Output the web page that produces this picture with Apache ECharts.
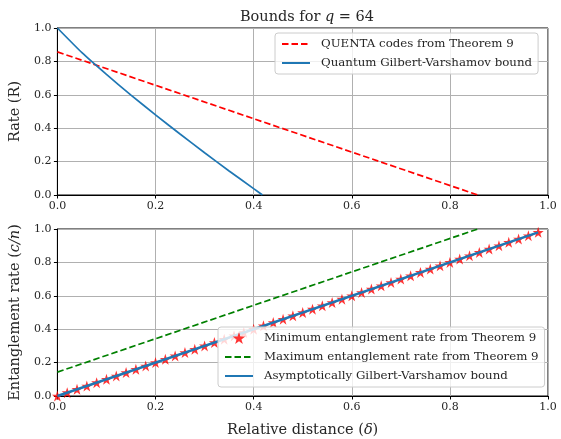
<!DOCTYPE html>
<html><head><meta charset="utf-8">
<script src="https://cdn.jsdelivr.net/npm/echarts@6/dist/echarts.min.js"></script>
<style>html,body{margin:0;padding:0;background:#fff}#c{width:561px;height:439px}</style>
</head><body><div id="c"></div>
<script>
// ---- data ----
const xTicks = [0.0, 0.2, 0.4, 0.6, 0.8, 1.0];
const yTicks = [0.0, 0.2, 0.4, 0.6, 0.8, 1.0];
// top panel
const quentaDelta = [0, 0.857];
const quentaRate = [0.857, 0];
const qgvDelta = [0, 0.05, 0.1, 0.15, 0.2, 0.25, 0.3, 0.35, 0.4, 0.418];
const qgvRate  = [1.0, 0.852, 0.722, 0.598, 0.480, 0.365, 0.253, 0.144, 0.038, 0.0];
// bottom panel
const minDelta = [0.00,0.02,0.04,0.06,0.08,0.10,0.12,0.14,0.16,0.18,0.20,0.22,0.24,0.26,0.28,0.30,0.32,0.34,0.36,0.38,0.40,0.42,0.44,0.46,0.48,0.50,0.52,0.54,0.56,0.58,0.60,0.62,0.64,0.66,0.68,0.70,0.72,0.74,0.76,0.78,0.80,0.82,0.84,0.86,0.88,0.90,0.92,0.94,0.96,0.98];
const minEnt   = [0.00,0.02,0.04,0.06,0.08,0.10,0.12,0.14,0.16,0.18,0.20,0.22,0.24,0.26,0.28,0.30,0.32,0.34,0.36,0.38,0.40,0.42,0.44,0.46,0.48,0.50,0.52,0.54,0.56,0.58,0.60,0.62,0.64,0.66,0.68,0.70,0.72,0.74,0.76,0.78,0.80,0.82,0.84,0.86,0.88,0.90,0.92,0.94,0.96,0.98];
const maxDelta = [0, 0.857];
const maxEnt   = [0.143, 1.0];
const agvDelta = [0, 0.98];
const agvEnt   = [0, 0.98];

const names = {
  quenta: 'QUENTA codes from Theorem 9',
  qgv: 'Quantum Gilbert-Varshamov bound',
  minE: 'Minimum entanglement rate from Theorem 9',
  maxE: 'Maximum entanglement rate from Theorem 9',
  agv: 'Asymptotically Gilbert-Varshamov bound'
};
const zip = (a, b) => a.map((v, i) => [v, b[i]]);

const FONT = 'DejaVu Serif, serif';
const STAR = 'path://M0,-10 L2.245,-3.09 L9.51,-3.09 L3.633,1.18 L5.878,8.09 L0,3.82 L-5.878,8.09 L-3.633,1.18 L-9.51,-3.09 L-2.245,-3.09 Z';
const fmt = v => v.toFixed(1);
const TXT = '#262626';
const richLbl = {
  a: { fontFamily: FONT, fontSize: 14.5, color: TXT },
  i: { fontFamily: FONT, fontSize: 14.5, color: TXT, fontStyle: 'italic' }
};

function xAxis(gi, withName) {
  const a = {
    type: 'value', gridIndex: gi, min: 0, max: 1, interval: 0.2,
    axisLine: { show: true, onZero: false, lineStyle: { color: '#000', width: 1 } },
    axisTick: { show: true, length: 3.5, lineStyle: { color: '#000' } },
    axisLabel: { formatter: fmt, color: TXT, fontFamily: FONT, fontSize: 11, margin: 6 },
    splitLine: { show: true, lineStyle: { color: '#b0b0b0', width: 1 } }
  };
  if (withName) {
    a.name = '{a|Relative distance (}{i|δ}{a|)}';
    a.nameLocation = 'middle';
    a.nameGap = 27;
    a.nameTextStyle = { rich: richLbl };
  }
  return a;
}
function yAxis(gi, name) {
  return {
    type: 'value', gridIndex: gi, min: 0, max: 1, interval: 0.2,
    name: name, nameLocation: 'middle', nameGap: 33, nameRotate: 90,
    nameTextStyle: { rich: richLbl },
    axisLine: { show: true, onZero: false, lineStyle: { color: '#000', width: 1 } },
    axisTick: { show: true, length: 3.5, lineStyle: { color: '#000' } },
    axisLabel: { formatter: fmt, color: TXT, fontFamily: FONT, fontSize: 11, margin: 6 },
    splitLine: { show: true, lineStyle: { color: '#b0b0b0', width: 1 } }
  };
}
const legendBase = {
  orient: 'vertical', itemWidth: 28, itemHeight: 12, itemGap: 7,
  padding: [5, 6, 5, 6],
  backgroundColor: 'rgba(255,255,255,0.8)', borderColor: '#cccccc', borderWidth: 1, borderRadius: 3,
  textStyle: { fontFamily: FONT, fontSize: 11.8, color: TXT, padding: [0, 0, 0, 6] },
  z: 10
};
const hideSym = { opacity: 0 };

const chart = echarts.init(document.getElementById('c'), null, { renderer: 'canvas' });
chart.setOption({
  animation: false,
  backgroundColor: '#fff',
  title: {
    text: '{a|Bounds for }{i|q}{a| = 64}',
    left: 302, top: 5, textAlign: 'center',
    textStyle: { fontWeight: 'normal', rich: richLbl }
  },
  grid: [
    { left: 57, top: 28, width: 491, height: 167, show: true, borderColor: '#000', borderWidth: 1, backgroundColor: 'transparent' },
    { left: 57, top: 229, width: 491, height: 167, show: true, borderColor: '#000', borderWidth: 1, backgroundColor: 'transparent' }
  ],
  xAxis: [xAxis(0, false), xAxis(1, true)],
  yAxis: [
    yAxis(0, '{a|Rate (R)}'),
    yAxis(1, '{a|Entanglement rate (}{i|c/n}{a|)}')
  ],
  legend: [
    Object.assign({}, legendBase, { left: 275, top: 33, data: [
      { name: names.quenta, itemStyle: hideSym },
      { name: names.qgv, itemStyle: hideSym } ] }),
    Object.assign({}, legendBase, { left: 218, top: 327, data: [
      { name: names.minE },
      { name: names.maxE, itemStyle: hideSym },
      { name: names.agv, itemStyle: hideSym } ] })
  ],
  series: [
    { name: names.quenta, type: 'line', xAxisIndex: 0, yAxisIndex: 0, data: zip(quentaDelta, quentaRate),
      symbol: 'none', lineStyle: { color: '#ff0000', width: 1.7, type: [6.5, 3] }, itemStyle: { color: '#ff0000' }, z: 3 },
    { name: names.qgv, type: 'line', xAxisIndex: 0, yAxisIndex: 0, data: zip(qgvDelta, qgvRate),
      symbol: 'none', smooth: 0.15, lineStyle: { color: '#1f77b4', width: 1.7 }, itemStyle: { color: '#1f77b4' }, z: 3 },
    { name: names.minE, type: 'scatter', xAxisIndex: 1, yAxisIndex: 1, data: zip(minDelta, minEnt),
      symbol: STAR, symbolSize: 11, itemStyle: { color: '#ff0000' }, z: 3 },
    { name: names.maxE, type: 'line', xAxisIndex: 1, yAxisIndex: 1, data: zip(maxDelta, maxEnt),
      symbol: 'none', lineStyle: { color: '#008000', width: 1.7, type: [6.5, 3] }, itemStyle: { color: '#008000' }, z: 3 },
    { name: names.agv, type: 'line', xAxisIndex: 1, yAxisIndex: 1, data: zip(agvDelta, agvEnt),
      symbol: 'none', lineStyle: { color: '#1f77b4', width: 2.4 }, itemStyle: { color: '#1f77b4' }, z: 4 }
  ]
});
</script>
</body></html>
